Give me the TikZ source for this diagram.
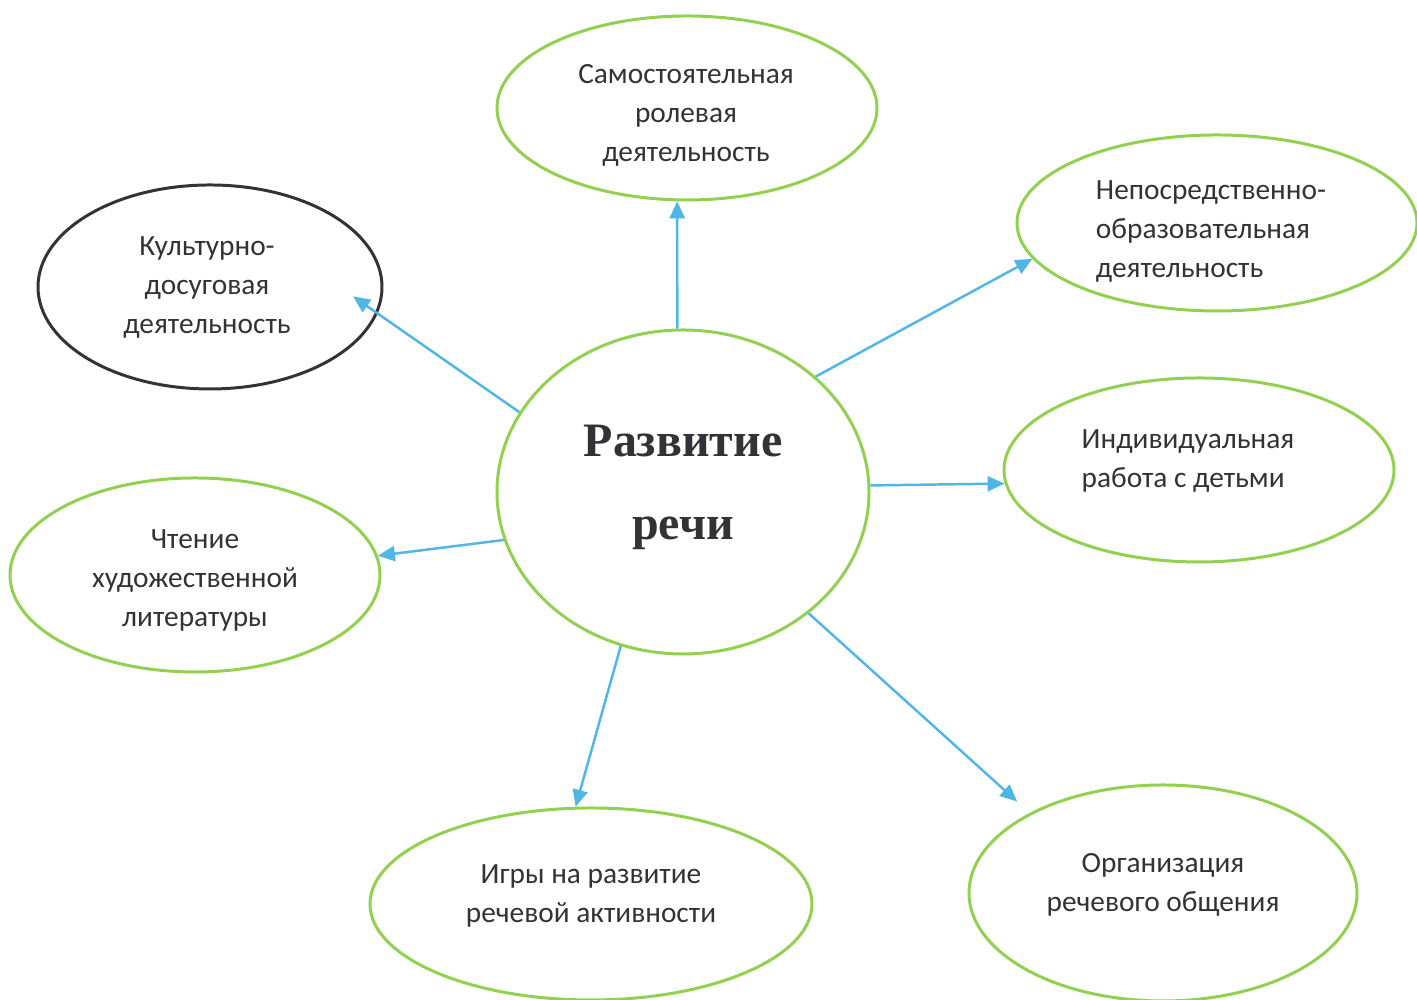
\documentclass[tikz,border=0pt]{standalone}
\usepackage{fontspec}
\setmainfont{Carlito}
\newfontfamily\serifb{Liberation Serif}
\usetikzlibrary{shapes.geometric,arrows.meta}
\definecolor{leaf}{RGB}{146,208,80}
\definecolor{sky}{RGB}{80,182,230}
\definecolor{ink}{RGB}{52,50,54}

\begin{document}
\begin{tikzpicture}[
	oval/.style={ellipse,draw=leaf,line width=.85pt,inner sep=0pt},
	txt/.style={text=ink,align=center,font=\fontsize{8.35}{11.1}\selectfont},
	arr/.style={draw=sky,line width=.7pt,-{Triangle[length=1.7mm,width=1.5mm]}}
	]
	\useasboundingbox (0,0) rectangle (14.17,10);
	\fill[white] (0,0) rectangle (14.17,10);
	\foreach \n/\x/\y/\w/\h in {T/6.87/8.92/3.8/1.84,N/12.17/7.77/4.0/1.76,R/6.83/5.08/3.72/3.24,I/11.99/5.30/3.9/1.84,C/1.95/4.25/3.7/1.94,G/5.91/0.96/4.42/1.92,O/11.63/1.07/3.88/2.16}
		\node[oval,minimum width=\w cm,minimum height=\h cm] (\n) at (\x,\y) {};
	\node[oval,draw=ink,minimum width=3.44cm,minimum height=2.04cm] (K) at (2.10,7.13) {};
	% texts
	\node[txt] (Tt) at (6.86,8.85) {Самостоятельная\\ролевая\\деятельность};
	\node[txt,align=left] (Nt) at (12.11,7.68) {Непосредственно-\\образовательная\\деятельность};
	\node[txt] (Kt) at (2.07,7.12) {Культурно-\\досуговая\\деятельность};
	\node[text=ink,align=center,font=\fontsize{13.65}{23.6}\serifb\bfseries] (Rt) at (6.83,5.13) {Развитие\\речи};
	\node[txt,align=left] (It) at (11.88,5.39) {Индивидуальная\\работа с детьми};
	\node[txt] (Ct) at (1.95,4.20) {Чтение\\художественной\\литературы};
	\node[txt] (Gt) at (5.91,1.04) {Игры на развитие\\речевой активности};
	\node[txt] (Ot) at (11.63,1.15) {Организация\\речевого общения};
	% arrows
	\draw[arr] (R.92) -- (T.-96);
	\draw[arr] (R.41) -- (N.191.8);
	\draw[arr,shorten >=-3mm] (R.154.8) -- (K.-9);
	\draw[arr] (R.2.5) -- (I.184);
	\draw[arr] (R.195) -- (C.6);
	\draw[arr] (R.-112) -- (G.99);
	\draw[arr,shorten >=1.7mm] (R.-44) -- (O.149.5);
\end{tikzpicture}
\end{document}
